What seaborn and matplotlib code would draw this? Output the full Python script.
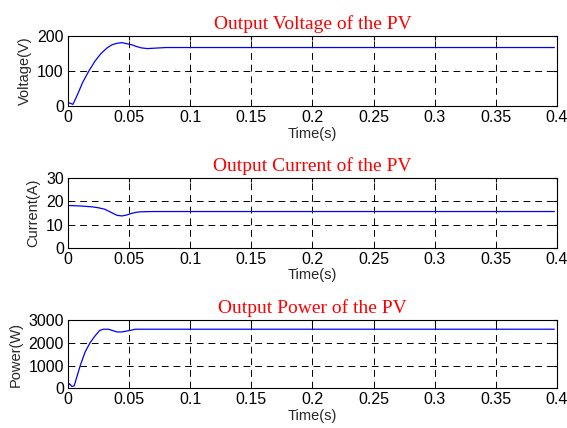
import numpy as np
import pandas as pd
import matplotlib
matplotlib.use('Agg')
import matplotlib.pyplot as plt
import seaborn as sns

# values
tV = [0, 0.002, 0.004, 0.008, 0.012, 0.017, 0.022, 0.027, 0.032, 0.036, 0.04, 0.044, 0.048, 0.052,
      0.056, 0.06, 0.065, 0.07, 0.075, 0.08, 0.09, 0.1, 0.15, 0.2, 0.25, 0.3, 0.35, 0.398]
voltage = [10, 8, 5, 35, 68, 100, 128, 150, 166, 175, 179, 181, 178, 175,
           170, 166, 164, 165, 166, 167, 167, 167, 167, 167, 167, 167, 167, 167]

tI = [0, 0.01, 0.02, 0.025, 0.03, 0.035, 0.04, 0.044, 0.048, 0.052, 0.056, 0.06,
      0.07, 0.08, 0.1, 0.15, 0.2, 0.25, 0.3, 0.35, 0.398]
current = [18.2, 18, 17.6, 17.2, 16.6, 15.3, 14, 13.7, 14.1, 14.8, 15.3, 15.5,
           15.6, 15.6, 15.6, 15.6, 15.6, 15.6, 15.6, 15.6, 15.6]

tP = [0, 0.001, 0.002, 0.003, 0.005, 0.01, 0.014, 0.018, 0.022, 0.026, 0.029, 0.033, 0.036,
      0.04, 0.044, 0.048, 0.052, 0.055, 0.06, 0.1, 0.15, 0.2, 0.25, 0.3, 0.35, 0.398]
power = [100, 200, 150, 80, 100, 1000, 1600, 2000, 2300, 2550, 2600, 2600, 2550,
         2480, 2480, 2520, 2560, 2600, 2600, 2600, 2600, 2600, 2600, 2600, 2600, 2600]

titles = ['Output Voltage of the PV', 'Output Current of the PV', 'Output Power of the PV']
ylabels = ['Voltage(V)', 'Current(A)', 'Power(W)']
yticks = [[0, 100, 200], [0, 10, 20, 30], [0, 1000, 2000, 3000]]
xticks = [0, 0.05, 0.1, 0.15, 0.2, 0.25, 0.3, 0.35, 0.4]
xticklabels = ['0', '0.05', '0.1', '0.15', '0.2', '0.25', '0.3', '0.35', '0.4']

sns.set_style('white')
plt.rcParams['font.family'] = ['Liberation Sans', 'DejaVu Sans']

fig = plt.figure(figsize=(5.67, 4.28), dpi=100)
boxes = [[0.12, 0.752, 0.862, 0.164],
         [0.12, 0.421, 0.862, 0.163],
         [0.12, 0.093, 0.862, 0.159]]
series = [(tV, voltage), (tI, current), (tP, power)]

for i in range(3):
    ax = fig.add_axes(boxes[i])
    df = pd.DataFrame({'t': series[i][0], 'y': series[i][1]})
    sns.lineplot(data=df, x='t', y='y', ax=ax, color='blue', linewidth=0.9)
    ax.set_xlim(0, 0.4)
    ax.set_ylim(yticks[i][0], yticks[i][-1])
    ax.set_xticks(xticks)
    ax.set_xticklabels(xticklabels)
    ax.set_yticks(yticks[i])
    ax.tick_params(direction='in', top=True, right=True, labelsize=11.5,
                   length=3, width=0.8, color='black', labelcolor='black', pad=3)
    ax.grid(True, color='black', linestyle=(0, (7, 5)), linewidth=0.7)
    for s in ax.spines.values():
        s.set_color('black')
        s.set_linewidth(0.8)
    ax.set_title(titles[i], color='red', family='Liberation Serif', fontsize=14, pad=5)
    ax.set_ylabel(ylabels[i], fontsize=10.5)
    ax.set_xlabel('Time(s)', fontsize=10.5, labelpad=1)

fig.savefig('out.png', dpi=100)
